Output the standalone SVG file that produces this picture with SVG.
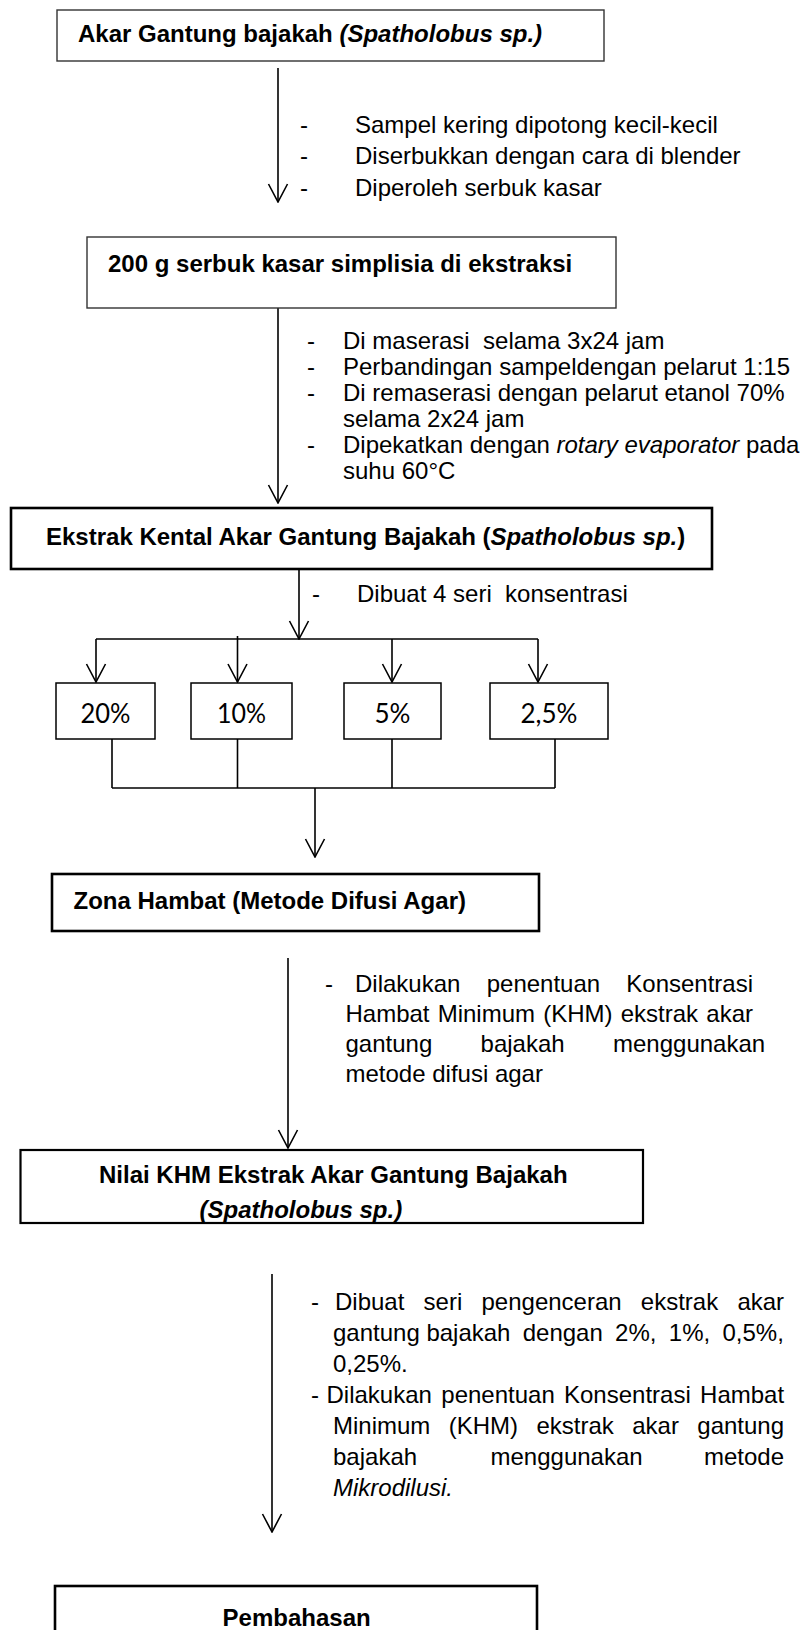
<svg xmlns="http://www.w3.org/2000/svg" width="806" height="1630" viewBox="0 0 806 1630">
<defs>
<style>
.t{font-family:"Liberation Sans",Arial,sans-serif;font-size:24px;fill:#000;white-space:pre}
.b{font-weight:bold}
.i{font-style:italic}
.p{font-family:Lato,"Liberation Sans",sans-serif;font-size:26px;fill:#000;text-anchor:middle}
.box{fill:#fff;stroke:#000}
.thin{stroke:#333;stroke-width:1.4}
.thick{stroke-width:2.6}
.ln{fill:none;stroke:#000;stroke-width:1.6}
.ar{marker-end:url(#v)}
</style>
<marker id="v" viewBox="0 0 20 22" refX="19" refY="11" markerWidth="20" markerHeight="22" markerUnits="userSpaceOnUse" orient="auto">
<path d="M1,1.5 L19,11 L1,20.5" fill="none" stroke="#000" stroke-width="1.6"/>
</marker>
</defs>
<rect width="806" height="1630" fill="#fff"/>

<g id="connectors">
<line class="ln ar" x1="278" y1="68" x2="278" y2="202"/>
<line class="ln ar" x1="278" y1="308" x2="278" y2="503"/>
<line class="ln ar" x1="299" y1="569" x2="299" y2="639"/>
<line class="ln" x1="96" y1="639" x2="538" y2="639" stroke-width="2"/>
<line class="ln ar" x1="96" y1="639" x2="96" y2="682"/>
<line class="ln ar" x1="237.5" y1="636" x2="237.5" y2="682"/>
<line class="ln ar" x1="392" y1="639" x2="392" y2="682"/>
<line class="ln ar" x1="538" y1="639" x2="538" y2="682"/>
<line class="ln" x1="112" y1="739" x2="112" y2="788"/>
<line class="ln" x1="237.5" y1="739" x2="237.5" y2="788"/>
<line class="ln" x1="392" y1="739" x2="392" y2="788"/>
<line class="ln" x1="555" y1="739" x2="555" y2="788"/>
<line class="ln" x1="112" y1="788" x2="555" y2="788" stroke-width="2"/>
<line class="ln ar" x1="315" y1="788" x2="315" y2="857"/>
<line class="ln ar" x1="288" y1="958" x2="288" y2="1148"/>
<line class="ln ar" x1="272" y1="1274" x2="272" y2="1532" stroke-width="2"/>
</g>

<g id="node-akar">
<rect class="box thin" x="57" y="10" width="547" height="51"/>
<text class="t b" x="78" y="42">Akar Gantung bajakah <tspan class="i">(Spatholobus sp.)</tspan></text>
</g>

<g id="label-1">
<text class="t" x="300" y="133">-</text>
<text class="t" x="355" y="133">Sampel kering dipotong kecil-kecil</text>
<text class="t" x="300" y="164">-</text>
<text class="t" x="355" y="164">Diserbukkan dengan cara di blender</text>
<text class="t" x="300" y="196">-</text>
<text class="t" x="355" y="196">Diperoleh serbuk kasar</text>
</g>

<g id="node-serbuk">
<rect class="box thin" x="87" y="237" width="529" height="71"/>
<text class="t b" x="108" y="272">200 g serbuk kasar simplisia di ekstraksi</text>
</g>

<g id="label-2">
<text class="t" x="307" y="349">-</text>
<text class="t" x="343" y="349">Di maserasi  selama 3x24 jam</text>
<text class="t" x="307" y="375">-</text>
<text class="t" x="343" y="375">Perbandingan sampeldengan pelarut 1:15</text>
<text class="t" x="307" y="401">-</text>
<text class="t" x="343" y="401">Di remaserasi dengan pelarut etanol 70%</text>
<text class="t" x="343" y="427">selama 2x24 jam</text>
<text class="t" x="307" y="453">-</text>
<text class="t" x="343" y="453">Dipekatkan dengan <tspan class="i">rotary evaporator</tspan> pada</text>
<text class="t" x="343" y="479">suhu 60°C</text>
</g>

<g id="node-ekstrak">
<rect class="box thick" x="11" y="508" width="701" height="61"/>
<text class="t b" x="46" y="545">Ekstrak Kental Akar Gantung Bajakah (<tspan class="i">Spatholobus sp.</tspan>)</text>
</g>

<g id="label-3">
<text class="t" x="312" y="602">-</text>
<text class="t" x="357" y="602">Dibuat 4 seri  konsentrasi</text>
</g>

<g id="node-20">
<rect class="box" stroke-width="1.5" x="56" y="683" width="99" height="56"/>
<text class="p" x="105.5" y="723" textLength="50" lengthAdjust="spacingAndGlyphs">20%</text>
</g>
<g id="node-10">
<rect class="box" stroke-width="1.5" x="191" y="683" width="101" height="56"/>
<text class="p" x="241.5" y="723" textLength="49" lengthAdjust="spacingAndGlyphs">10%</text>
</g>
<g id="node-5">
<rect class="box" stroke-width="1.5" x="344" y="683" width="97" height="56"/>
<text class="p" x="392.5" y="723" textLength="36" lengthAdjust="spacingAndGlyphs">5%</text>
</g>
<g id="node-2-5">
<rect class="box" stroke-width="1.5" x="490" y="683" width="118" height="56"/>
<text class="p" x="549" y="723" textLength="57" lengthAdjust="spacingAndGlyphs">2,5%</text>
</g>

<g id="node-zona">
<rect class="box thick" x="52" y="874" width="487" height="57"/>
<text class="t b" x="73.5" y="909">Zona Hambat (Metode Difusi Agar)</text>
</g>

<g id="label-4">
<text class="t" x="325" y="992">-</text>
<text class="t" y="992"><tspan x="355">Dilakukan</tspan><tspan x="486.7">penentuan</tspan><tspan x="626.3">Konsentrasi</tspan></text>
<text class="t" y="1022"><tspan x="345.5">Hambat</tspan><tspan x="437.7">Minimum</tspan><tspan x="543.2">(KHM)</tspan><tspan x="620.7">ekstrak</tspan><tspan x="706.3">akar</tspan></text>
<text class="t" y="1052"><tspan x="345.5">gantung</tspan><tspan x="480.6">bajakah</tspan><tspan x="613">menggunakan</tspan></text>
<text class="t" x="345.5" y="1082">metode difusi agar</text>
</g>

<g id="node-nilai">
<rect class="box" stroke-width="2.2" x="20.5" y="1150" width="622.5" height="73"/>
<text class="t b" x="99" y="1183">Nilai KHM Ekstrak Akar Gantung Bajakah</text>
<text class="t b i" x="199.5" y="1218">(Spatholobus sp.)</text>
</g>

<g id="label-5">
<text class="t" x="311" y="1310">-</text>
<text class="t" y="1310"><tspan x="335">Dibuat</tspan><tspan x="423.6">seri</tspan><tspan x="481.5">pengenceran</tspan><tspan x="640.8">ekstrak</tspan><tspan x="737.4">akar</tspan></text>
<text class="t" y="1341"><tspan x="333">gantung</tspan><tspan x="426.4">bajakah</tspan><tspan x="522.7">dengan</tspan><tspan x="615.1">2%,</tspan><tspan x="668.8">1%,</tspan><tspan x="722.5">0,5%,</tspan></text>
<text class="t" x="333" y="1372">0,25%.</text>
<text class="t" x="311" y="1403">-</text>
<text class="t" y="1403"><tspan x="326.5">Dilakukan</tspan><tspan x="441.3">penentuan</tspan><tspan x="564">Konsentrasi</tspan><tspan x="700.1">Hambat</tspan></text>
<text class="t" y="1434"><tspan x="333">Minimum</tspan><tspan x="448.7">(KHM)</tspan><tspan x="536.4">ekstrak</tspan><tspan x="632.2">akar</tspan><tspan x="697.3">gantung</tspan></text>
<text class="t" y="1465"><tspan x="333">bajakah</tspan><tspan x="490.5">menggunakan</tspan><tspan x="704">metode</tspan></text>
<text class="t i" x="333" y="1496">Mikrodilusi.</text>
</g>

<g id="node-pembahasan">
<rect class="box thick" x="55" y="1586" width="482" height="60"/>
<text class="t b" x="222.6" y="1626">Pembahasan</text>
</g>
</svg>
